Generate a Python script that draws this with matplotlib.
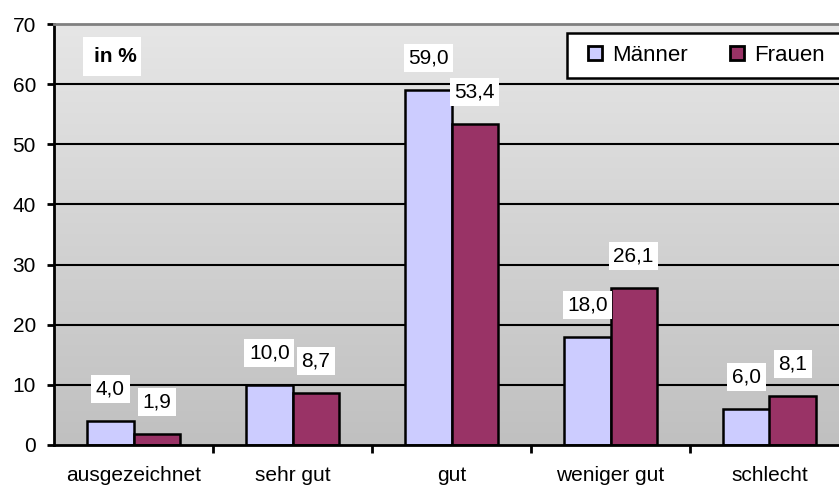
import numpy as np
import matplotlib
matplotlib.use("Agg")
import matplotlib.pyplot as plt
from matplotlib.patches import Rectangle

plt.rcParams['font.family'] = ['Liberation Sans', 'DejaVu Sans']

# Daten: Selbsteinschätzung des Gesundheitszustands
kategorien = ['ausgezeichnet', 'sehr gut', 'gut', 'weniger gut', 'schlecht']
maenner = [4.0, 10.0, 59.0, 18.0, 6.0]
frauen = [1.9, 8.7, 53.4, 26.1, 8.1]
serien = ['Männer', 'Frauen']
farben = ['#ccccff', '#993366']

W, H = 839, 487
fig = plt.figure(figsize=(W / 100, H / 100), dpi=100)
ax = fig.add_axes([54 / W, 42 / H, 795 / W, 421 / H])

x = np.arange(len(kategorien))
w = 0.29

# Hintergrund mit Farbverlauf
grad = np.linspace(0, 1, 256).reshape(-1, 1)
ax.imshow(grad, extent=(-0.5, 4.5, 0, 70), aspect='auto', origin='upper',
          cmap=matplotlib.colors.LinearSegmentedColormap.from_list('bg', ['#e6e6e6', '#c0c0c0']),
          zorder=0)

for y in range(10, 70, 10):
    ax.axhline(y, color='black', lw=1.5, zorder=1)

b1 = ax.bar(x - w / 2, maenner, w, color=farben[0], edgecolor='black', lw=1.8, zorder=2, label=serien[0])
b2 = ax.bar(x + w / 2, frauen, w, color=farben[1], edgecolor='black', lw=1.8, zorder=2, label=serien[1])

# Wertebeschriftungen
for bars, werte in ((b1, maenner), (b2, frauen)):
    for rect, v in zip(bars, werte):
        ax.annotate(f'{v:.1f}'.replace('.', ','),
                    (rect.get_x() + rect.get_width() / 2, v),
                    xytext=(0, 23), textcoords='offset points',
                    ha='center', va='center', fontsize=15, zorder=3,
                    bbox=dict(boxstyle='square,pad=0.22', fc='white', ec='none'))

# Kasten "in %"
ax.add_patch(Rectangle((83 / W, 1 - 76 / H), 58 / W, 39 / H, transform=fig.transFigure,
                       fc='white', ec='none', zorder=5, clip_on=False))
ax.text(115 / W, 1 - 57 / H, 'in %', transform=fig.transFigure, fontsize=15,
        fontweight='bold', ha='center', va='center', zorder=6)

ax.set_xlim(-0.5, 4.5)
ax.set_ylim(0, 70)
ax.set_yticks(range(0, 71, 10))
ax.set_xticks(x)
ax.set_xticklabels(kategorien)
ax.set_xticks(np.arange(0.5, 4.5, 1), minor=True)
ax.tick_params(axis='x', which='major', length=0, pad=15, labelsize=15)
ax.tick_params(axis='x', which='minor', length=6, width=2, direction='out')
ax.tick_params(axis='y', length=5, width=2, labelsize=15, pad=8)

ax.spines['left'].set_linewidth(2)
ax.spines['bottom'].set_linewidth(2)
ax.spines['top'].set_color('#808080')
ax.spines['top'].set_linewidth(2)
ax.spines['right'].set_visible(False)

# Legende mit eigenem Rahmen
ax.add_patch(Rectangle((567 / W, 1 - 78 / H), 290 / W, 45 / H, transform=fig.transFigure,
                       fc='white', ec='black', lw=1.8, zorder=5, clip_on=False))
leg = ax.legend(loc='center left', bbox_to_anchor=(588 / W, 1 - 55.5 / H),
                bbox_transform=fig.transFigure, ncol=2, fontsize=16,
                handlelength=0.63, handleheight=0.63, handletextpad=0.45,
                columnspacing=1.9, borderpad=0, frameon=False, borderaxespad=0)
leg.set_zorder(6)
for h in leg.legend_handles:
    h.set_linewidth(2)

fig.savefig('out.png', dpi=100)
